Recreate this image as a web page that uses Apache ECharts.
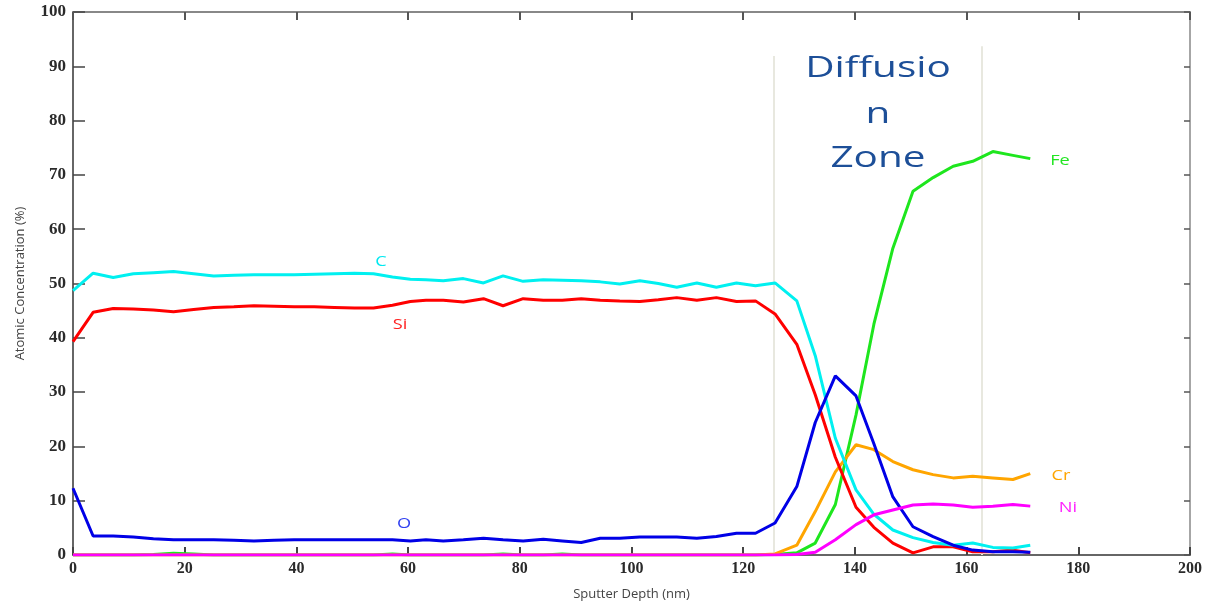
<!DOCTYPE html>
<html>
<head>
<meta charset="utf-8">
<script src="https://cdn.jsdelivr.net/npm/echarts@6/dist/echarts.min.js"></script>
<style>
html,body{margin:0;padding:0;background:#fff;}
#charts{width:1209px;height:603px;}
</style>
</head>
<body>
<div id="charts"></div>
<script>
// sputter depth (nm) of each measured point
var depth = [0,3.6,7.2,10.8,14.4,18,21.6,25.2,28.8,32.4,36,39.6,43.2,46.8,50.4,53.8,57.2,60.4,63.2,66.3,
	69.9,73.5,77,80.6,84.2,87.6,91,94.4,97.9,101.5,104.8,108.1,111.7,115.2,118.8,122.2,125.7,129.6,132.9,136.5,
	140.2,143.4,146.8,150.4,154,157.6,161.1,164.7,168.3,171.4];
// atomic concentration (%)
var cC  = [48.7,51.9,51.1,51.8,52.0,52.2,51.8,51.4,51.5,51.6,51.6,51.6,51.7,51.8,51.9,51.8,51.2,50.8,50.7,50.5,
	50.9,50.1,51.4,50.4,50.7,50.6,50.5,50.3,49.9,50.5,50.0,49.3,50.1,49.3,50.1,49.6,50.1,46.8,36.7,21.5,
	12.0,7.5,4.6,3.2,2.3,1.8,2.2,1.4,1.3,1.8];
var cSi = [39.3,44.7,45.4,45.3,45.1,44.8,45.2,45.6,45.7,45.9,45.8,45.7,45.7,45.6,45.5,45.5,46.0,46.7,46.9,46.9,
	46.6,47.2,45.9,47.2,46.9,46.9,47.2,46.9,46.8,46.7,47.0,47.4,46.9,47.4,46.7,46.8,44.4,38.8,29.5,18.0,
	8.8,5.1,2.2,0.4,1.5,1.5,0.6,0.6,0.9,0.4];
var cO  = [12.3,3.5,3.5,3.3,3.0,2.8,2.8,2.8,2.7,2.6,2.7,2.8,2.8,2.8,2.8,2.8,2.8,2.6,2.8,2.6,
	2.8,3.1,2.8,2.6,2.9,2.6,2.3,3.1,3.1,3.3,3.3,3.3,3.1,3.4,4.0,4.0,5.9,12.6,24.4,33.0,
	29.3,20.5,10.7,5.2,3.4,1.8,0.9,0.6,0.6,0.5];
var cFe = [0,0,0,0,0.1,0.3,0.2,0,0,0,0,0,0,0,0,0,0.2,0,0,0,
	0,0,0.2,0,0,0.2,0,0,0,0,0,0,0,0,0,0,0.1,0.4,2.2,9.3,
	25.8,42.5,56.5,67.0,69.5,71.6,72.5,74.3,73.6,73.0];
var cCr = [0,0,0,0,0,0,0,0,0,0,0,0,0,0,0,0,0,0,0,0,
	0,0,0,0,0,0,0,0,0,0,0,0,0,0,0,0,0.2,1.8,8.0,15.3,
	20.3,19.4,17.2,15.7,14.8,14.2,14.5,14.2,13.9,15.0];
var cNi = [0,0,0,0,0,0,0,0,0,0,0,0,0,0,0,0,0,0,0,0,
	0,0,0,0,0,0,0,0,0,0,0,0,0,0,0,0,0,0.1,0.5,2.8,
	5.6,7.4,8.3,9.2,9.4,9.2,8.8,9.0,9.3,9.0];
// diffusion zone borders (nm) and top of their lines (%)
var zoneX = [125.5,162.7];
var zoneTop = [91.9,93.7];

function pairs(arr){
	var out = [];
	for(var i=0;i<depth.length;i++){
		out.push([depth[i],arr[i]]);
	}
	return out;
}

function lineSeries(name,color,arr){
	return {
		name:name,
		type:'line',
		showSymbol:false,
		symbol:'none',
		smooth:false,
		data:pairs(arr),
		lineStyle:{color:color,width:3},
		itemStyle:{color:color},
		xAxisIndex:0,
		yAxisIndex:0
	};
}

var charts = echarts.init(document.getElementById('charts'));
var tickFont = {fontFamily:'Liberation Serif',fontWeight:'bold',color:'#2a2a2a'};

var series = [
	lineSeries('Fe','#1ee61e',cFe),
	lineSeries('Cr','#ffa500',cCr),
	lineSeries('Si','#ff0000',cSi),
	lineSeries('C','#00f0f0',cC),
	lineSeries('O','#0000e6',cO),
	lineSeries('Ni','#ff00ff',cNi)
];
//扩散区边界线
series[0].markLine = {
	silent:true,
	symbol:'none',
	label:{show:false},
	lineStyle:{color:'#e8e8df',width:2,type:'solid'},
	z:1,
	data:[
		[{coord:[zoneX[0],0]},{coord:[zoneX[0],zoneTop[0]]}],
		[{coord:[zoneX[1],0]},{coord:[zoneX[1],zoneTop[1]]}]
	]
};

var zoneText = {fontFamily:'Open Sans',fontSize:30,fill:'#1d4f98',textAlign:'center',textVerticalAlign:'middle'};
function txt(str,x,y,style,sx){
	return {type:'text',x:x,y:y,scaleX:sx,silent:true,z:100,
		style:Object.assign({text:str},style)};
}
var tagFont = {fontFamily:'Open Sans',fontSize:14,textAlign:'center',textVerticalAlign:'middle'};

var option = {
	animation:false,
	backgroundColor:'#fff',
	grid:{left:73,right:19,top:12,bottom:48,containLabel:false,outerBoundsMode:'none'},
	xAxis:[{
		type:'value',min:0,max:200,interval:20,
		name:'Sputter Depth (nm)',nameLocation:'middle',nameGap:33,
		nameTextStyle:{fontFamily:'Open Sans',fontSize:13,color:'#444'},
		axisLine:{show:true,onZero:false,lineStyle:{color:'#666',width:2}},
		axisTick:{show:true,inside:true,length:8,lineStyle:{color:'#444',width:2}},
		axisLabel:Object.assign({margin:6,fontSize:16},tickFont),
		splitLine:{show:false}
	},{
		type:'value',min:0,max:200,interval:20,position:'top',
		axisLine:{show:true,onZero:false,lineStyle:{color:'#888',width:2}},
		axisTick:{show:true,inside:true,length:8,lineStyle:{color:'#555',width:2}},
		axisLabel:{show:false},splitLine:{show:false}
	}],
	yAxis:[{
		type:'value',min:0,max:100,interval:10,
		name:'Atomic Concentration (%)',nameLocation:'middle',nameGap:46,
		nameTextStyle:{fontFamily:'Open Sans',fontSize:13,color:'#444'},
		axisLine:{show:true,onZero:false,lineStyle:{color:'#333',width:1.5}},
		axisTick:{show:true,inside:true,length:12,lineStyle:{color:'#444',width:1.5}},
		axisLabel:Object.assign({margin:7,fontSize:17},tickFont),
		splitLine:{show:false}
	},{
		type:'value',min:0,max:100,interval:10,position:'right',
		axisLine:{show:true,onZero:false,lineStyle:{color:'#888',width:1.5}},
		axisTick:{show:true,inside:true,length:6,lineStyle:{color:'#555',width:1.5}},
		axisLabel:{show:false},splitLine:{show:false}
	}],
	series:series,
	graphic:[
		txt('Diffusio',878,68,zoneText,1.35),
		txt('n',878,114,zoneText,1.35),
		txt('Zone',878,158,zoneText,1.35),
		txt('C',381,262,Object.assign({fill:'#00e8f0'},tagFont),1.3),
		txt('Si',400,325,Object.assign({fill:'#ff2020'},tagFont),1.3),
		txt('O',404,524,Object.assign({fill:'#3040f0'},tagFont),1.3),
		txt('Fe',1060,161,Object.assign({fill:'#22e622'},tagFont),1.3),
		txt('Cr',1061,476,Object.assign({fill:'#ffa500'},tagFont),1.3),
		txt('Ni',1068,508,Object.assign({fill:'#ff20ff'},tagFont),1.3)
	]
};
charts.setOption(option);
</script>
</body>
</html>
